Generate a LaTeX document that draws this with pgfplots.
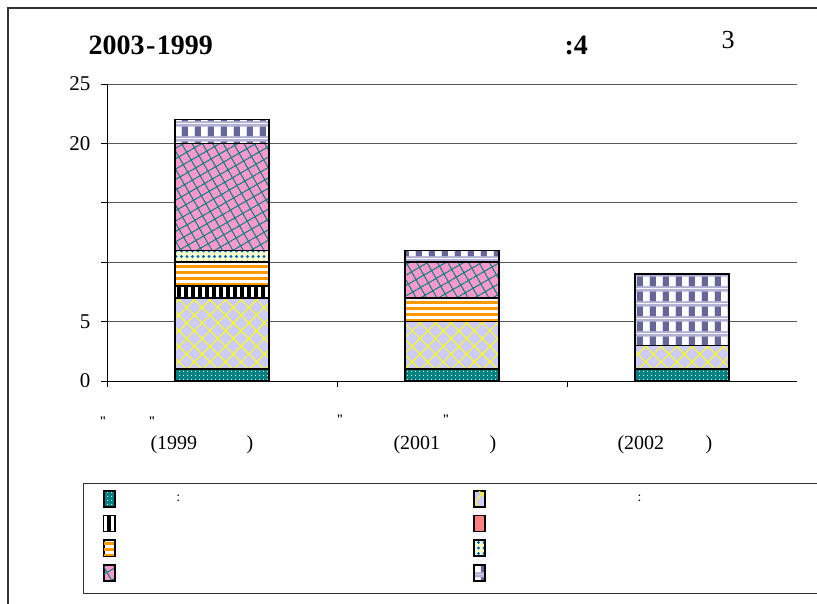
\documentclass[border=0pt]{standalone}
\usepackage{fontspec}
\setmainfont{Liberation Serif}
\usepackage{pgfplots}
\pgfplotsset{compat=1.18}
\usetikzlibrary{patterns,patterns.meta}

\definecolor{tealc}{RGB}{0,128,128}
\definecolor{lavc}{RGB}{204,204,255}
\definecolor{yelc}{RGB}{255,255,0}
\definecolor{salc}{RGB}{255,128,128}
\definecolor{orac}{RGB}{255,153,0}
\definecolor{lyelc}{RGB}{255,255,204}
\definecolor{bluec}{RGB}{0,102,204}
\definecolor{pinkc}{RGB}{255,153,204}
\definecolor{chkdark}{RGB}{102,102,153}
\definecolor{chklav}{RGB}{178,178,212}

\pgfdeclarepatterninherentlycolored{mychecks}{\pgfpointorigin}{\pgfpoint{13pt}{15pt}}{\pgfpoint{13pt}{15pt}}{%
\pgfsetfillcolor{chklav}\pgfpathrectangle{\pgfpointorigin}{\pgfpoint{13pt}{15pt}}\pgfusepath{fill}%
\pgfsetfillcolor{chkdark}\pgfpathrectangle{\pgfpoint{0pt}{2pt}}{\pgfpoint{6.5pt}{10pt}}\pgfusepath{fill}%
\pgfsetfillcolor{white}\pgfpathrectangle{\pgfpoint{6.5pt}{2pt}}{\pgfpoint{6.5pt}{10pt}}\pgfusepath{fill}%
}

\pgfplotsset{myleg/.style={legend image code/.code={\draw[##1,line width=1.2pt] (0pt,-8pt) rectangle (11pt,8pt);}}}

\begin{document}
\begin{tikzpicture}[x=1pt,y=1pt]
\path[use as bounding box] (0,0) rectangle (817,603);
\draw[line width=1.5pt, black!80] (8,-20) -- (8,595) -- (840,595);
\draw[line width=1pt, black!80] (83,10) rectangle (900,119);

\node[anchor=west, font=\bfseries\fontsize{28}{28}\selectfont] at (85,558) {2003\kern1.5pt-\kern1.5pt1999};
\node[anchor=west, font=\bfseries\fontsize{28}{28}\selectfont] at (561,558) {:4};
\node[anchor=west, font=\fontsize{26}{26}\selectfont] at (718,563) {3};

\begin{axis}[
 at={(107pt,222pt)}, anchor=south west,
 scale only axis, width=690pt, height=297pt,
 xmin=-0.5, xmax=2.5, ymin=0, ymax=25,
 ybar stacked, bar width=94pt,
 axis x line*=bottom, axis y line*=left,
 axis line style={black, line width=1pt},
 ytick={0,5,10,15,20,25}, yticklabels={0,5,{},{},20,25},
 xtick={-0.5,0.5,1.5}, xticklabels={},
 tick align=outside, major tick length=6pt, tick style={black,line width=0.8pt},
 ymajorgrids, grid style={black!65, line width=0.8pt},
 yticklabel style={font=\fontsize{21}{21}\selectfont, xshift=-7pt},
 legend columns=2, legend cell align=left,
 legend style={at={(rel axis cs:-0.0058,-0.367)}, anchor=north west, draw=none, fill=none, inner sep=0pt, row sep=7.5pt, font=\fontsize{14}{14}\selectfont},
 clip=false,
]
\addplot[draw=black, line width=1.5pt, preaction={fill=tealc}, pattern={Dots[radius=0.7pt,distance=4pt]}, pattern color=white, myleg]
 coordinates {(0,1) (1,1) (2,1)};
\addlegendentry{\makebox[354pt][l]{\hspace{59pt}:}}
\addplot[draw=black, line width=1.5pt, preaction={fill=lavc}, pattern={Hatch[angle=45,distance=11pt,line width=1pt]}, pattern color=yelc, myleg]
 coordinates {(0,6) (1,4) (2,2)};
\addlegendentry{\makebox[300pt][l]{\hspace{150pt}:}}
\addplot[draw=black, line width=1.5pt, preaction={fill=black}, pattern={Lines[angle=90,distance=7pt,line width=3pt]}, pattern color=white, myleg]
 coordinates {(0,1) (1,0) (2,0)};
\addlegendentry{\makebox[354pt][l]{}}
\addplot[draw=black, line width=1.5pt, fill=salc, myleg]
 coordinates {(0,0) (1,0) (2,0)};
\addlegendentry{\makebox[300pt][l]{}}
\addplot[draw=black, line width=1.5pt, preaction={fill=white}, pattern={Lines[angle=0,distance=6pt,line width=3pt]}, pattern color=orac, myleg]
 coordinates {(0,2) (1,2) (2,0)};
\addlegendentry{\makebox[354pt][l]{}}
\addplot[draw=black, line width=1.5pt, preaction={fill=lyelc}, pattern={Dots[radius=1.6pt,distance=5.5pt]}, pattern color=bluec, myleg]
 coordinates {(0,1) (1,0) (2,0)};
\addlegendentry{\makebox[300pt][l]{}}
\addplot[draw=black, line width=1.5pt, preaction={fill=pinkc}, pattern={Hatch[angle=30,distance=9pt,line width=1pt]}, pattern color=tealc, myleg]
 coordinates {(0,9) (1,3) (2,0)};
\addlegendentry{\makebox[354pt][l]{}}
\addplot[draw=black, line width=1.5pt, pattern=mychecks, myleg]
 coordinates {(0,2) (1,1) (2,6)};
\addlegendentry{\makebox[300pt][l]{}}
\end{axis}

\begin{scope}[every node/.style={anchor=west, font=\fontsize{20}{20}\selectfont}]
\node at (147,158) {(1999};
\node at (243,158) {)};
\node at (390,158) {(2001};
\node at (486,158) {)};
\node at (614,158) {(2002};
\node at (702,158) {)};
\end{scope}
\begin{scope}[every node/.style={font=\bfseries\fontsize{13}{13}\selectfont}]
\node at (103,182) {\textquotedbl};
\node at (152,182) {\textquotedbl};
\node at (340,184) {\textquotedbl};
\node at (446,184) {\textquotedbl};
\end{scope}
\end{tikzpicture}
\end{document}
